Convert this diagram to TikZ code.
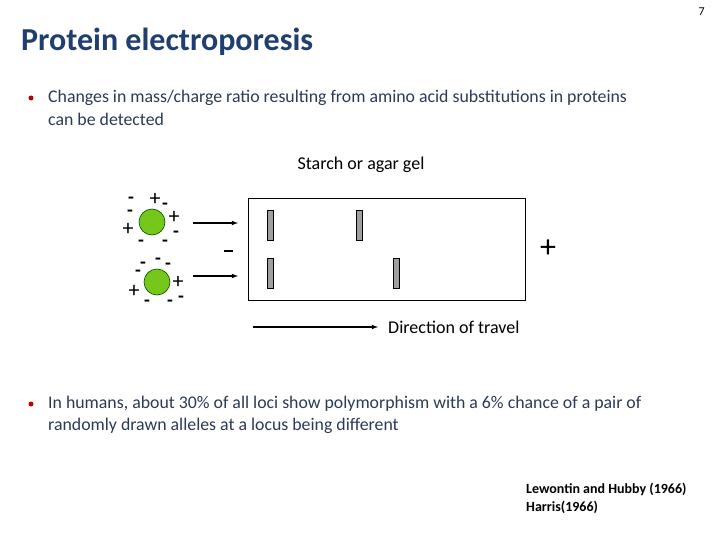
\documentclass[tikz,border=0pt]{standalone}
\usepackage{fontspec}
\setmainfont{Carlito}
\begin{document}
\begin{tikzpicture}[x=1pt,y=-1pt,
  txt/.style={text=textc,font=\fontsize{17.8}{20}\selectfont,inner sep=0,anchor=west},
  bul/.style={circle,fill=red!75!black,inner sep=0,minimum size=5},
  band/.style={draw=black,fill=gray!75,line width=0.5},
  prot/.style={circle,draw=green!30!black,fill=green!60!black!60!yellow!90,minimum size=26,inner sep=0,line width=0.6},
  pl/.style={font=\fontsize{22}{22}\rmfamily\selectfont,inner sep=0},
  mn/.style={font=\fontsize{19}{19}\bfseries\selectfont,inner sep=0},
  arr/.style={-latex,line width=1.1}]
\definecolor{textc}{HTML}{2B3A55}
\definecolor{titlec}{HTML}{1F3F70}
\useasboundingbox (0,0) rectangle (720,540);
\node[anchor=east,font=\fontsize{12}{14}\selectfont,inner sep=0] (pg) at (705,12) {7};
\node[anchor=west,text=titlec,font=\fontsize{32}{34}\bfseries\selectfont,inner sep=0] (title) at (21,42) {Protein electroporesis};
\node[bul] (b1) at (31,98) {};
\node[txt] (t1a) at (48,98) {Changes in mass/charge ratio resulting from amino acid substitutions in proteins};
\node[txt] (t1b) at (48,119) {can be detected};
\node[font=\fontsize{18}{20}\selectfont,inner sep=0] (gellbl) at (361,165) {Starch or agar gel};
\node[draw=black,line width=0.6,minimum width=277,minimum height=102,inner sep=0] (gel) at (386.5,249) {};
\node[band,minimum width=6,minimum height=30,inner sep=0] (k1) at (270,225) {};
\node[band,minimum width=6,minimum height=30,inner sep=0] (k2) at (359.5,225) {};
\node[band,minimum width=6,minimum height=30,inner sep=0] (k3) at (270,273) {};
\node[band,minimum width=6,minimum height=30,inner sep=0] (k4) at (396,273) {};
\node[draw=none,fill=black,minimum width=9,minimum height=2.6,inner sep=0] (neg) at (228,251) {};
\node[font=\fontsize{32}{32}\rmfamily\selectfont,inner sep=0] (pos) at (548,249) {+};
\node[prot] (p1) at (152,222) {};
\node[prot] (p2) at (157,282) {};
\coordinate (a1s) at (193,223); \coordinate (a1e) at (238,223);
\coordinate (a2s) at (193,276); \coordinate (a2e) at (238,276);
\draw[arr] (a1s) -- (a1e);
\draw[arr] (a2s) -- (a2e);
\node[mn] (c1) at (131,200) {-};
\node[pl] (c2) at (155,199) {+};
\node[mn] (c3) at (165,206) {-};
\node[mn] (c4) at (130,213) {-};
\node[pl] (c5) at (174,217) {+};
\node[pl] (c6) at (128,229) {+};
\node[mn] (c7) at (176,234) {-};
\node[mn] (c8) at (141,243) {-};
\node[mn] (c9) at (165,243) {-};
\node[mn] (d1) at (158,261) {-};
\node[mn] (d2) at (143,265) {-};
\node[mn] (d3) at (168,266) {-};
\node[mn] (d4) at (138,273) {-};
\node[pl] (d5) at (178,282) {+};
\node[pl] (d6) at (134,291) {+};
\node[mn] (d7) at (181,299) {-};
\node[mn] (d8) at (147,303) {-};
\node[mn] (d9) at (170,303) {-};
\coordinate (dirs) at (253,327);
\node[anchor=west,font=\fontsize{18}{20}\selectfont,inner sep=0] (dir) at (388,327) {Direction of travel};
\draw[arr] (dirs) -- (378,327);
\node[bul] (b2) at (31,404) {};
\node[txt] (t2a) at (48,404) {In humans, about 30\% of all loci show polymorphism with a 6\% chance of a pair of};
\node[txt] (t2b) at (48,426) {randomly drawn alleles at a locus being different};
\node[anchor=west,font=\fontsize{14}{16}\bfseries\selectfont,inner sep=0] (r1) at (526,489) {Lewontin and Hubby (1966)};
\node[anchor=west,font=\fontsize{14}{16}\bfseries\selectfont,inner sep=0] (r2) at (526,507) {Harris(1966)};
\end{tikzpicture}
\end{document}
